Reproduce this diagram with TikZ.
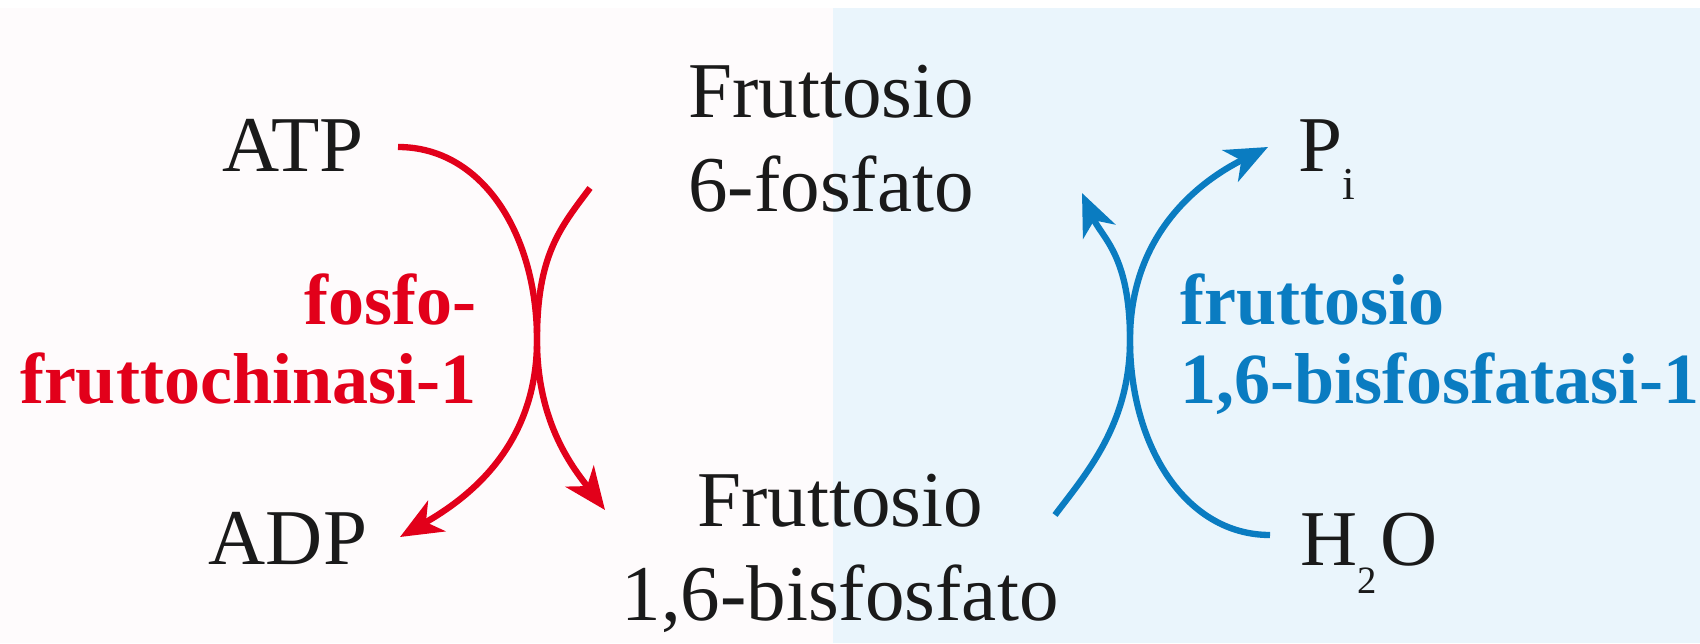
\documentclass[tikz,border=0pt]{standalone}
\usepackage{fontspec}
\setmainfont{Liberation Serif}
\usepackage{xcolor}
\usepackage{tikz}
\usetikzlibrary{positioning, arrows.meta}
\definecolor{KinaseRed}{HTML}{E2001A}
\definecolor{PhosBlue}{HTML}{0A7CC1}
\definecolor{LeftPaper}{HTML}{FEFBFC}
\definecolor{RightPaper}{HTML}{EAF5FC}
\definecolor{InkBlack}{HTML}{1A1A1A}
\newcommand{\subdown}[2]{\raisebox{-8pt}{\fontsize{#1}{#1}\selectfont #2}}

\begin{document}
\begin{tikzpicture}[
    metab/.style={font=\fontsize{22.5}{26.7}\selectfont, text=InkBlack, inner sep=0pt, align=center},
    enzyme/.style={font=\fontsize{20.5}{22.2}\selectfont\bfseries, inner sep=0pt},
    redarc/.style={KinaseRed, line width=1.8pt, -{Stealth[length=12pt, width=10pt, inset=3.5pt]}},
    bluearc/.style={PhosBlue, line width=1.8pt, -{Stealth[length=12pt, width=10pt, inset=3.5pt]}}
  ]
      % paper
      \useasboundingbox (0,0) rectangle (17,6.43);
      \fill[white] (0,0) rectangle (17,6.43);
      \fill[LeftPaper] (0,0) rectangle (8.33,6.35);
      \fill[RightPaper] (8.33,0) rectangle (17,6.35);

      % metabolites (base = last line)
      \node[metab, anchor=base] (atp) at (2.93,4.72) {ATP};
      \node[metab, anchor=base] (adp) at (2.88,0.79) {ADP};
      \node[metab, anchor=base] (f6p) at (8.31,4.32) {Fruttosio\\6-fosfato};
      \node[metab, anchor=base] (fbp) at (8.40,0.23) {Fruttosio\\1,6-bisfosfato};
      \node[metab, anchor=base west] (pi) at (12.98,4.72) {P\subdown{13}{i}};
      \node[metab, anchor=base west] (water) at (13.00,0.78) {H\subdown{11}{2}\kern1pt O};

      % enzymes
      \node[enzyme, text=KinaseRed, anchor=base east, align=right] (pfk) at (4.77,2.40) {fosfo-\\fruttochinasi-1};
      \node[enzyme, text=PhosBlue, anchor=base west, align=left] (fbpase) at (11.80,2.40) {fruttosio\\1,6-bisfosfatasi-1};

      % arc ends
      \coordinate (atpout) at (3.98,4.96);
      \coordinate (adpin) at (4.00,1.06);
      \coordinate (f6pout) at (5.90,4.55);
      \coordinate (fbpin) at (6.05,1.33);
      \coordinate (redmid) at (5.37,3.03);
      \coordinate (waterout) at (12.70,1.08);
      \coordinate (piin) at (12.68,4.96);
      \coordinate (fbpout) at (10.55,1.28);
      \coordinate (f6pin) at (10.82,4.50);
      \coordinate (bluemid) at (11.30,3.03);

      % kinase
      \draw[redarc] (atpout) .. controls +(0.85,0) and +(0,1.05) .. (redmid)
                    .. controls +(0,-1.05) and +(0.7,0.4) .. (adpin);
      \draw[redarc] (f6pout) .. controls +(-0.3,-0.4) and +(0,0.85) .. (redmid)
                    .. controls +(0,-0.85) and +(-0.3,0.4) .. (fbpin);

      % phosphatase
      \draw[bluearc] (waterout) .. controls +(-0.85,0) and +(0,-1.05) .. (bluemid)
                     .. controls +(0,1.05) and +(-0.7,-0.35) .. (piin);
      \draw[bluearc] (fbpout) .. controls +(0.3,0.4) and +(0,-0.85) .. (bluemid)
                     .. controls +(0,0.85) and +(0.2,-0.45) .. (f6pin);
    \end{tikzpicture}
\end{document}
